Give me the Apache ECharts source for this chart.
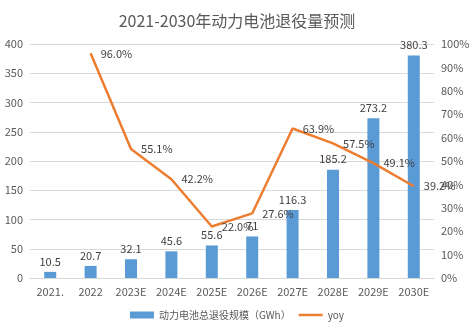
<!DOCTYPE html>
<html><head><meta charset="utf-8">
<script src="https://cdn.jsdelivr.net/npm/echarts@6/dist/echarts.min.js"></script>
<style>html,body{margin:0;padding:0;background:#fff}#c{width:474px;height:333px}</style>
</head><body><div id="c"></div>
<script>
const categories = ['2021.', '2022', '2023E', '2024E', '2025E', '2026E', '2027E', '2028E', '2029E', '2030E'];
const retiredGWh = [10.5, 20.7, 32.1, 45.6, 55.6, 71, 116.3, 185.2, 273.2, 380.3];
const yoyPct = [null, 96.0, 55.1, 42.2, 22.0, 27.6, 63.9, 57.5, 49.1, 39.2];
const barName = '动力电池总退役规模（GWh）';
const lineName = 'yoy';
const titleText = '2021-2030年动力电池退役量预测';

const font = '"Microsoft YaHei","Noto Sans CJK SC","DejaVu Sans",sans-serif';
const chart = echarts.init(document.getElementById('c'));
chart.setOption({
  animation: false,
  textStyle: { fontFamily: font },
  title: { text: titleText, left: 'center', top: 8, textStyle: { fontSize: 16, fontWeight: 'normal', color: '#595959', fontFamily: font } },
  legend: {
    bottom: 8, left: 'center', itemGap: 8, itemWidth: 24, itemHeight: 7,
    textStyle: { fontSize: 10, color: '#595959' },
    data: [{ name: barName, icon: 'rect' }, { name: lineName, icon: 'path://M0,3h24v2.5h-24z' }]
  },
  grid: { left: 30, right: 40, top: 44, bottom: 55 },
  xAxis: {
    type: 'category', data: categories,
    axisLine: { lineStyle: { color: '#d9d9d9' } },
    axisTick: { show: false },
    axisLabel: { color: '#595959', fontSize: 11, margin: 8, interval: 0 }
  },
  yAxis: [
    { type: 'value', min: 0, max: 400, interval: 50,
      axisLabel: { color: '#595959', fontSize: 11, margin: 7 },
      splitLine: { lineStyle: { color: '#d9d9d9' } },
      axisLine: { show: false }, axisTick: { show: false } },
    { type: 'value', min: 0, max: 100, interval: 10,
      axisLabel: { color: '#595959', fontSize: 11, margin: 7, formatter: '{value}%' },
      splitLine: { show: false },
      axisLine: { show: false }, axisTick: { show: false } }
  ],
  series: [
    { name: barName, type: 'bar', data: retiredGWh, barWidth: 12,
      itemStyle: { color: '#5b9bd5' },
      label: { show: true, position: 'top', color: '#404040', fontSize: 11 } },
    { name: lineName, type: 'line', yAxisIndex: 1, data: yoyPct,
      symbol: 'circle', symbolSize: 0.1, showSymbol: true,
      lineStyle: { color: '#ed7d31', width: 2.5 },
      itemStyle: { color: '#ed7d31' },
      label: { show: true, position: 'right', distance: 10, color: '#404040', fontSize: 11,
        formatter: p => p.value.toFixed(1) + '%' } }
  ]
});
</script></body></html>
